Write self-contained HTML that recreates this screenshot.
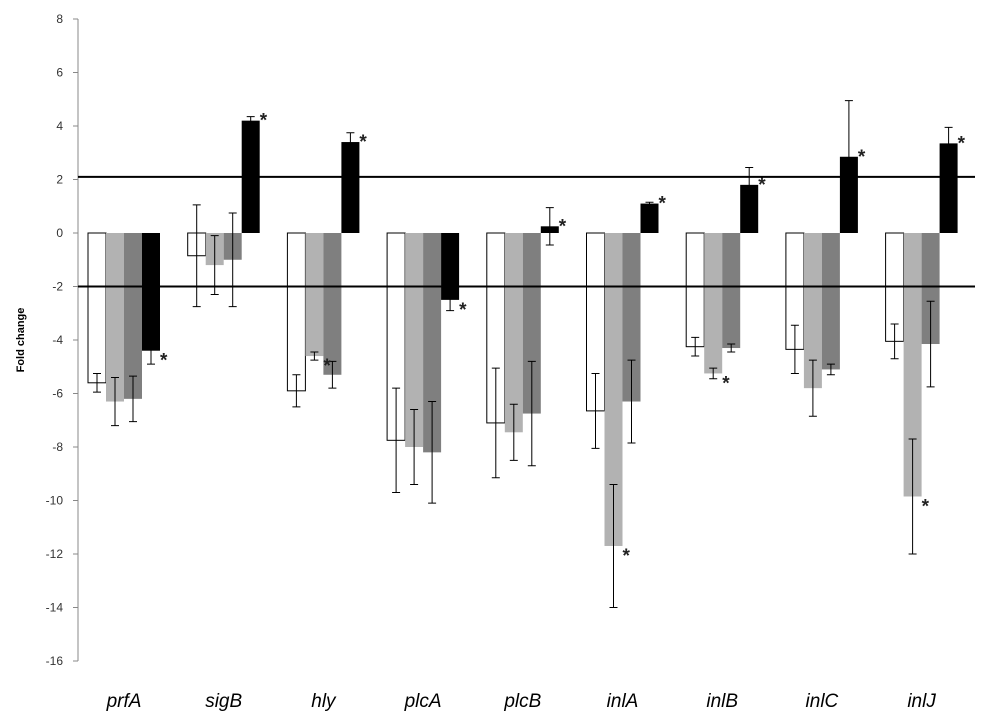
<!DOCTYPE html>
<html><head><meta charset="utf-8"><style>
body{margin:0;background:#fff;}
svg{display:block;font-family:"Liberation Sans",sans-serif;}
</style></head><body>
<svg id="chart" width="1003" height="722"></svg>
<script>
const categories=["prfA","sigB","hly","plcA","plcB","inlA","inlB","inlC","inlJ"];
const seriesWhite=[-5.6,-0.85,-5.9,-7.75,-7.1,-6.65,-4.25,-4.35,-4.05];
const seriesLight=[-6.3,-1.2,-4.6,-8.0,-7.45,-11.7,-5.25,-5.8,-9.85];
const seriesDark=[-6.2,-1.0,-5.3,-8.2,-6.75,-6.3,-4.3,-5.1,-4.15];
const seriesBlack=[-4.4,4.2,3.4,-2.5,0.25,1.1,1.8,2.85,3.35];
const errWhite=[0.35,1.9,0.6,1.95,2.05,1.4,0.35,0.9,0.65];
const errLight=[0.9,1.1,0.15,1.4,1.05,2.3,0.2,1.05,2.15];
const errDark=[0.85,1.75,0.5,1.9,1.95,1.55,0.15,0.2,1.6];
const errBlack=[0.5,0.15,0.35,0.4,0.7,0.05,0.65,2.1,0.6];
const sigLight=[false,false,true,false,false,true,true,false,true];
const sigBlack=[true,true,true,true,true,true,true,true,true];
const yTicks=[8,6,4,2,0,-2,-4,-6,-8,-10,-12,-14,-16];
const thresholds=[2.1,-2];

const svg=document.getElementById('chart');
const NS='http://www.w3.org/2000/svg';
const y0=233,unit=26.75,xStart=78,step=99.7;
const Y=v=>y0-v*unit;
const X=i=>xStart+i*step;
function mk(tag,attrs,parent){const e=document.createElementNS(NS,tag);for(const k in attrs)e.setAttribute(k,attrs[k]);(parent||svg).appendChild(e);return e;}

const axis=mk('line',{x1:78,x2:78,y1:Y(8),y2:Y(-16),stroke:'#888','stroke-width':1});


yTicks.forEach(t=>{
  const tk=mk('line',{x1:73,x2:78,y1:Y(t),y2:Y(t),stroke:'#888'});
  
  
  const tx=mk('text',{x:63,y:Y(t)+4,'text-anchor':'end','font-size':12,fill:'#333'});
  tx.textContent=t;
  
  
});
const yt=mk('text',{x:0,y:0,transform:'translate(24,'+Y(-4)+') rotate(-90)','text-anchor':'middle','font-size':11,'font-weight':'bold'});
yt.textContent='Fold change';



const series=[[seriesWhite,errWhite,'#fff'],[seriesLight,errLight,'#b2b2b2'],[seriesDark,errDark,'#7f7f7f'],[seriesBlack,errBlack,'#000']];
const bw=18;
const stars=[];
categories.forEach((c,i)=>{
  series.forEach((s,j)=>{
    const v=s[0][i],e=s[1][i];
    const bx=X(i)+10+j*bw;
    const top=Math.min(Y(v),Y(0)),h=Math.abs(Y(v)-Y(0));
    const r=mk('rect',{x:bx,y:top,width:bw,height:h,fill:s[2],stroke:j==0?'#000':'none','stroke-width':1});
    
    
    const cx=bx+bw/2;
    const eb=mk('path',{d:`M${cx},${Y(v+e)}V${Y(v-e)}M${cx-4},${Y(v+e)}H${cx+4}M${cx-4},${Y(v-e)}H${cx+4}`,stroke:'#000','stroke-width':1,fill:'none'});
    
    
    const sig=(j==1&&sigLight[i])||(j==3&&sigBlack[i]);
    if(sig) stars.push([cx+9, v>=0?Y(v)+6:Y(v)+16]);
  });
  const lb=mk('text',{x:X(i)+46,y:707,'text-anchor':'middle','font-size':19,'font-style':'italic'});
  lb.textContent=c;
  
  
});
stars.forEach(p=>{
  const a=mk('text',{x:p[0],y:p[1],'font-size':19,'font-weight':'bold',fill:'#222'});
  a.textContent='*';
  
  
});
thresholds.forEach(t=>{
  const l=mk('line',{x1:78,x2:975,y1:Y(t),y2:Y(t),stroke:'#000','stroke-width':2});
  
  
});
</script>
</body></html>
